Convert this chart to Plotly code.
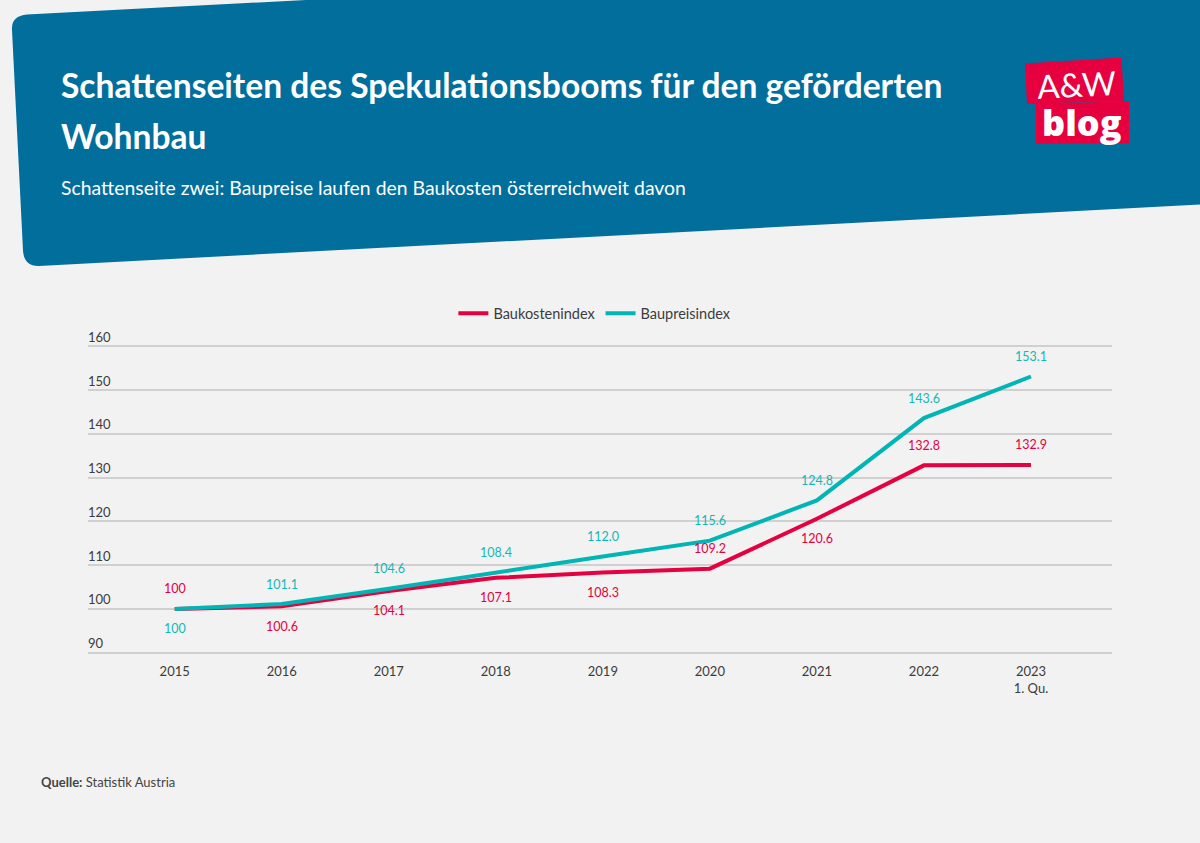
import plotly.graph_objects as go

years = ["2015", "2016", "2017", "2018", "2019", "2020", "2021", "2022", "2023"]
year_labels = ["2015", "2016", "2017", "2018", "2019", "2020", "2021", "2022", "2023<br>1. Qu."]
baukosten = [100, 100.6, 104.1, 107.1, 108.3, 109.2, 120.6, 132.8, 132.9]
baupreis = [100, 101.1, 104.6, 108.4, 112.0, 115.6, 124.8, 143.6, 153.1]
baukosten_text = ["100", "100.6", "104.1", "107.1", "108.3", "109.2", "120.6", "132.8", "132.9"]
baupreis_text = ["100", "101.1", "104.6", "108.4", "112.0", "115.6", "124.8", "143.6", "153.1"]
# label above (+) or below (-) the line
baukosten_side = [1, -1, -1, -1, -1, 1, -1, 1, 1]
baupreis_side = [-1, 1, 1, 1, 1, 1, 1, 1, 1]
y_ticks = [90, 100, 110, 120, 130, 140, 150, 160]

ROT = "#e6003f"
TEAL = "#00b5b3"
BLAU = "#026e9c"
HG = "#f2f2f2"
TEXT = "#3c3c3c"
FONT = "Lato, sans-serif"

# plot area in page pixels (y range has a small pad so the outer gridlines are drawn)
L, R, T, B = 88, 1112, 344.68, 654.32


def px(x):
    return (x - L) / (R - L)


def py(y):
    return (B - y) / (B - T)


def path(cmds):
    out = []
    for c in cmds:
        if len(c) == 1:
            out.append(c[0])
        else:
            parts = [c[0]]
            for i in range(1, len(c), 2):
                parts.append(f"{px(c[i]):.5f},{py(c[i + 1]):.5f}")
            out.append(" ".join(parts))
    return " ".join(out)


header = path([
    ("M", 12, 29), ("Q", 11, 15, 27, 13.5), ("L", 382, -5), ("L", 1205, -5), ("L", 1205, 204),
    ("L", 1200, 204), ("L", 39, 265.5), ("Q", 24, 266, 23, 250), ("Z",),
])
logo_top = path([("M", 1025, 62.5), ("L", 1121.5, 56.5), ("L", 1124, 100), ("L", 1036, 103), ("L", 1027, 103), ("Z",)])
logo_bottom = path([("M", 1036, 103), ("L", 1129, 100.5), ("L", 1129, 142.5), ("L", 1036, 143), ("Z",)])

fig = go.Figure()
fig.add_trace(go.Scatter(x=years, y=baukosten, mode="lines", name="Baukostenindex",
                         line=dict(color=ROT, width=4)))
fig.add_trace(go.Scatter(x=years, y=baupreis, mode="lines", name="Baupreisindex",
                         line=dict(color=TEAL, width=4)))

annos = []
for ys, texts, sides, col in [(baukosten, baukosten_text, baukosten_side, ROT),
                              (baupreis, baupreis_text, baupreis_side, "#12b8b6")]:
    # numeric-looking category names would be read as positions, so use the index
    for i, (y, t, s) in enumerate(zip(ys, texts, sides)):
        annos.append(dict(xref="x", yref="y", x=i, y=y, text=t, showarrow=False, yshift=20 * s,
                          font=dict(family=FONT, size=12.5, color=col)))


def page_text(x, y, text, size, color, anchor="left", angle=0, family=FONT, weight="normal"):
    annos.append(dict(xref="paper", yref="paper", x=px(x), y=py(y), text=text, showarrow=False,
                      xanchor=anchor, yanchor="middle", textangle=angle, align="left",
                      xshift=-1, font=dict(family=family, size=size, color=color, weight=weight)))


page_text(60, 84.5, "Schattenseiten des Spekulationsbooms für den geförderten", 33.6, "white", weight="bold")
page_text(60, 135, "Wohnbau", 33.6, "white", weight="bold")
page_text(60, 186.5, "Schattenseite zwei: Baupreise laufen den Baukosten österreichweit davon", 19.4, "white")
page_text(40, 783, "<b>Quelle:</b> Statistik Austria", 13, "#444444")
page_text(1077, 83, "A&amp;W", 33, "white", anchor="center", angle=-3, family="Lato")
page_text(1083, 122, "blog", 36, "white", anchor="center", family="Open Sans", weight=800)

fig.update_layout(
    width=1200,
    height=843,
    margin=dict(l=L, r=1200 - R, t=T, b=843 - B, autoexpand=False),
    paper_bgcolor=HG,
    plot_bgcolor=HG,
    font=dict(family=FONT, size=13, color=TEXT),
    showlegend=True,
    legend=dict(orientation="h", x=0.495, xanchor="center", y=py(313), yanchor="middle",
                bgcolor="rgba(0,0,0,0)", font=dict(family=FONT, size=14.5, color=TEXT)),
    annotations=annos,
    shapes=[
        dict(type="path", xref="paper", yref="paper", path=header, fillcolor=BLAU, line_width=0, layer="below"),
        dict(type="path", xref="paper", yref="paper", path=logo_top, fillcolor=ROT, line_width=0, layer="below"),
        dict(type="path", xref="paper", yref="paper", path=logo_bottom, fillcolor=ROT, line_width=0, layer="below"),
    ],
    xaxis=dict(type="category", categoryorder="array", categoryarray=years, tickvals=years, ticktext=year_labels,
               range=[-0.81, 8.757], showgrid=False, zeroline=False, showline=False, ticks="",
               ticklabelstandoff=8, tickfont=dict(family=FONT, size=13, color=TEXT)),
    yaxis=dict(range=[89.7, 160.3], tickvals=y_ticks, showgrid=True, gridcolor="#d0d0d0", gridwidth=1.5,
               zeroline=False, showline=False, ticks="", ticklabelposition="inside", ticklabelshift=-9,
               ticklabelstandoff=-3, ticklabeloverflow="allow", tickfont=dict(family=FONT, size=13, color=TEXT)),
)

fig.write_html("out.html", config={"displayModeBar": False},
               post_script="document.body.style.margin='0';document.body.style.background='#f2f2f2';")
